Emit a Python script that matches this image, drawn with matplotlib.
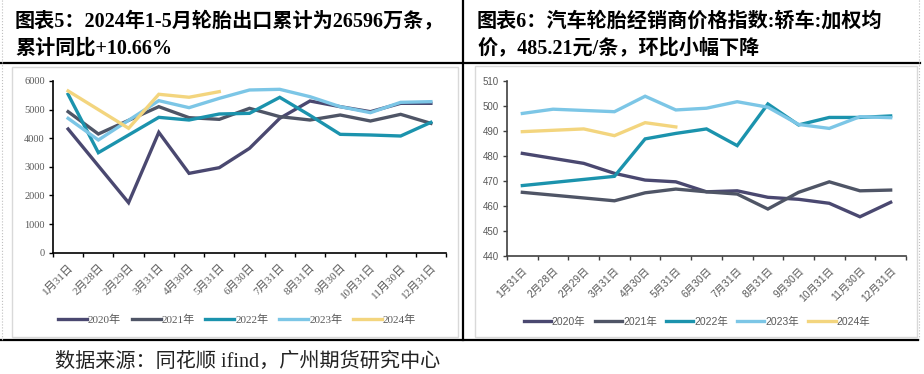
import numpy as np
import matplotlib
matplotlib.use("Agg")
import matplotlib.pyplot as plt
from matplotlib.lines import Line2D
from matplotlib.patches import Rectangle

nan = np.nan

# shared categories (Feb 28 and Feb 29 both kept, as in the source)
categories = ['1月31日', '2月28日', '2月29日', '3月31日', '4月30日', '5月31日', '6月30日',
              '7月31日', '8月31日', '9月30日', '10月31日', '11月30日', '12月31日']
years = ['2020年', '2021年', '2022年', '2023年', '2024年']
colors = ['#4a4870', '#4f5566', '#1b93ad', '#7cc6e6', '#f3d57e']

# chart 5: tyre exports (10k units)
export_2020 = [4322, nan, 1748, 4206, 2773, 2971, 3647, 4695, 5301, 5103, 4928, 5220, 5220]
export_2021 = [4928, 4148, nan, 5103, 4719, 4660, 5045, 4754, 4637, 4812, 4602, 4835, 4520]
export_2022 = [5534, 3495, nan, 4730, 4637, 4847, 4870, 5429, 4800, 4136, 4113, 4078, 4555]
export_2023 = [4695, 3938, nan, 5313, 5068, 5394, 5686, 5709, 5452, 5103, 4893, 5255, 5278]
export_2024 = [5652, nan, 4348, 5536, 5432, 5628, nan, nan, nan, nan, nan, nan, nan]

# chart 6: dealer price index, sedan, weighted average
price_2020 = [481.0, nan, 477.0, 473.0, 470.3, 469.6, 465.6, 466.0, 463.4, 462.6, 461.0, 455.6, 461.4]
price_2021 = [465.4, nan, nan, 462.0, 465.2, 466.7, 465.6, 464.7, 458.7, 465.4, 469.6, 466.0, 466.3]
price_2022 = [468.1, nan, nan, 471.8, 486.8, 489.0, 490.8, 484.1, 500.8, 492.4, 495.4, 495.4, 496.0]
price_2023 = [497.0, 498.7, nan, 497.7, 503.9, 498.4, 499.1, 501.7, 499.5, 492.6, 491.0, 495.7, 495.3]
price_2024 = [489.7, nan, 490.8, 488.1, 493.3, 491.6, nan, nan, nan, nan, nan, nan, nan]

title5 = '图表5：2024年1-5月轮胎出口累计为26596万条，\n累计同比+10.66%'
title6 = '图表6：汽车轮胎经销商价格指数:轿车:加权均\n价，485.21元/条，环比小幅下降'
source = '数据来源：同花顺 ifind，广州期货研究中心'

W, H = 924, 374
SERIF = ['Liberation Serif', 'Noto Sans CJK SC']
SANS = ['Liberation Sans', 'Noto Sans CJK SC']
GRAY = '#595959'


def fx(x):
    return x / W


def fy(y):
    return 1 - y / H


def draw_chart(ax, series, ylim, ystep, font, axcolor, lsize, tsize):
    x = np.arange(len(categories))
    for vals, label, c in zip(series, years, colors):
        v = np.array(vals, dtype=float)
        m = ~np.isnan(v)
        ax.plot(x[m], v[m], color=c, lw=2.4, label=label, solid_joinstyle='miter')
    ax.set_xlim(-0.5, len(categories) - 0.5)
    ax.set_ylim(*ylim)
    ax.set_yticks(np.arange(ylim[0], ylim[1] + 1, ystep))
    ax.set_xticks(x)
    ax.set_xticks(np.arange(-0.5, len(categories)), minor=True)
    ax.set_xticklabels(categories, rotation=45, ha='right', va='top',
                       rotation_mode='anchor', family=font, fontsize=lsize, color=GRAY)
    for t in ax.get_yticklabels():
        t.set_family(font)
        t.set_fontsize(tsize)
        t.set_color(GRAY)
    ax.tick_params(axis='x', which='major', length=0, pad=7)
    ax.tick_params(axis='x', which='minor', length=3, width=1, color=axcolor, direction='out')
    ax.tick_params(axis='y', length=3, width=1, color=axcolor, direction='out', pad=3)
    for s in ['top', 'right']:
        ax.spines[s].set_visible(False)
    for s in ['left', 'bottom']:
        ax.spines[s].set_color(axcolor)
        ax.spines[s].set_linewidth(1.2)


fig = plt.figure(figsize=(W / 100, H / 100), dpi=100)

# panel frames
for x0, y0, x1, y1 in [(12, 67, 458, 337), (475, 66, 917, 337)]:
    fig.add_artist(Rectangle((fx(x0), fy(y1)), fx(x1 - x0), (y1 - y0) / H,
                             transform=fig.transFigure, fill=False, ec='#d9d9d9', lw=1))
for xs, ys in [([0, 920], [63, 63]), ([0, 918], [339.5, 339.5]), ([463, 463], [0, 340])]:
    fig.add_artist(Line2D([fx(v) for v in xs], [fy(v) for v in ys],
                          transform=fig.transFigure, color='black', lw=1.6))
for xv in [2, 919]:
    fig.add_artist(Line2D([fx(xv), fx(xv)], [fy(0), fy(340)], transform=fig.transFigure,
                          color='#bfbfbf', lw=0.8, ls=':'))

# left chart
ax1 = fig.add_axes([fx(53), fy(252.7), fx(446 - 53), (252.7 - 81) / H])
draw_chart(ax1, [export_2020, export_2021, export_2022, export_2023, export_2024],
           (0, 6000), 1000, SERIF, 'black', 8, 7.5)
ax1.legend(loc='center', bbox_to_anchor=(fx(237), fy(320)), bbox_transform=fig.transFigure,
           ncol=5, frameon=False, handlelength=2.6, handletextpad=0.1, columnspacing=0.95,
           prop={'family': SERIF, 'size': 8}, labelcolor=GRAY)

# right chart
ax2 = fig.add_axes([fx(507), fy(255.7), fx(906 - 507), (255.7 - 81) / H])
draw_chart(ax2, [price_2020, price_2021, price_2022, price_2023, price_2024],
           (440, 510), 10, SANS, '#404040', 7.5, 7)
ax2.legend(loc='center', bbox_to_anchor=(fx(697), fy(322)), bbox_transform=fig.transFigure,
           ncol=5, frameon=False, handlelength=2.6, handletextpad=0.1, columnspacing=0.9,
           prop={'family': SANS, 'size': 7.5}, labelcolor=GRAY)

# titles and source
fig.text(fx(15), fy(35), title5, family=SERIF, fontsize=14.5, fontweight='bold',
         va='center', ha='left', linespacing=1.45)
fig.text(fx(477), fy(35), title6, family=SERIF, fontsize=14.5, fontweight='bold',
         va='center', ha='left', linespacing=1.45)
fig.text(fx(55), fy(362), source, family=SERIF, fontsize=14.5, va='center', ha='left',
         color='#222222')

fig.savefig('out.png', dpi=100)
